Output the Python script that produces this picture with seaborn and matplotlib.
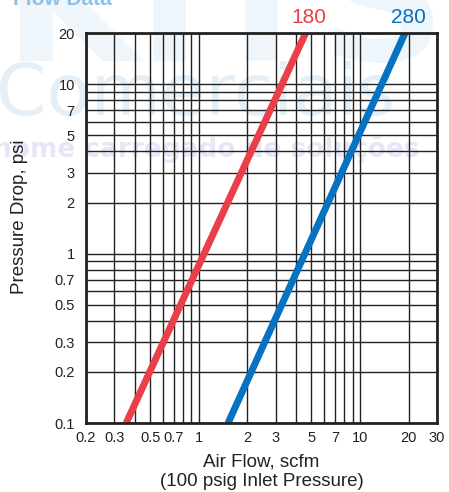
import numpy as np
import pandas as pd
import matplotlib.pyplot as plt
import seaborn as sns

# data (flow in scfm, pressure drop in psi)
flow_180 = [0.355, 4.6]
drop_180 = [0.1, 20]
flow_280 = [1.52, 19.0]
drop_280 = [0.1, 20]
series_names = ["180", "280"]
series_colors = ["#EA3F48", "#0572C2"]

x_ticks = [0.2, 0.3, 0.5, 0.7, 1, 2, 3, 5, 7, 10, 20, 30]
x_labels = ["0.2", "0.3", "0.5", "0.7", "1", "2", "3", "5", "7", "10", "20", "30"]
y_ticks = [0.1, 0.2, 0.3, 0.5, 0.7, 1, 2, 3, 5, 7, 10, 20]
y_labels = ["0.1", "0.2", "0.3", "0.5", "0.7", "1", "2", "3", "5", "7", "10", "20"]

df = pd.concat([
    pd.DataFrame({"flow": flow_180, "drop": drop_180, "model": "180"}),
    pd.DataFrame({"flow": flow_280, "drop": drop_280, "model": "280"}),
])

sns.set_theme(style="white")
plt.rcParams['font.family'] = ['Liberation Sans', 'DejaVu Sans']

fig = plt.figure(figsize=(4.49, 4.92), dpi=100)

# faint watermark behind the chart
fig.text(0.03, 0.99, "Flow Data", color="#8CC2EA", fontsize=15, fontweight="bold",
         ha="left", va="baseline", zorder=-2)
fig.text(0.5, 0.975, "KITS", color="#EEF5FB", fontsize=125, fontweight="bold",
         family="DejaVu Sans", ha="center", va="center", zorder=-3)
fig.text(-0.01, 0.805, "Comerciais", color="#E4EFF8", fontsize=52,
         family="DejaVu Sans", ha="left", va="center", zorder=-2)
fig.text(-0.015, 0.695, "nome carregado de soluções", color="#E6E6F8", fontsize=19,
         family="DejaVu Sans", fontweight="bold", ha="left", va="center", zorder=-2)

ax = fig.add_axes([0.1915, 0.1402, 0.7818, 0.7927])
ax.set_facecolor("none")

sns.lineplot(data=df, x="flow", y="drop", hue="model", palette=series_colors,
             linewidth=5, legend=False, ax=ax, zorder=3, solid_capstyle="butt")

ax.set_xscale("log")
ax.set_yscale("log")
ax.set_xlim(0.2, 30)
ax.set_ylim(0.1, 20)

ax.set_xticks(x_ticks)
ax.set_xticklabels(x_labels)
ax.set_yticks(y_ticks)
ax.set_yticklabels(y_labels)
ax.set_xticks([0.4, 0.6, 0.8, 0.9, 4, 6, 8, 9], minor=True)
ax.set_yticks([0.4, 0.6, 0.8, 0.9, 4, 6, 8, 9], minor=True)
ax.xaxis.set_minor_formatter(plt.NullFormatter())
ax.yaxis.set_minor_formatter(plt.NullFormatter())
ax.tick_params(which="both", length=0, labelsize=10.5, colors="#222222")
ax.tick_params(axis="x", pad=6)
ax.tick_params(axis="y", pad=8)
ax.grid(which="both", color="#222222", linewidth=1.0)

for s in ax.spines.values():
    s.set_color("#222222")
    s.set_linewidth(2)
    s.set_zorder(4)

ax.set_xlabel("Air Flow, scfm\n(100 psig Inlet Pressure)", fontsize=13.5,
              color="#222222", labelpad=6, linespacing=1.2)
ax.set_ylabel("Pressure Drop, psi", fontsize=13.5, color="#222222")
ax.yaxis.set_label_coords(-0.165, 0.53)

# series labels above the top edge
tr = ax.get_xaxis_transform()
for name, col, flows in zip(series_names, series_colors, [flow_180, flow_280]):
    ax.text(flows[-1] * 1.05, 1.04, name, color=col, fontsize=15,
            ha="center", va="center", transform=tr)

fig.savefig("out.png", dpi=100)
